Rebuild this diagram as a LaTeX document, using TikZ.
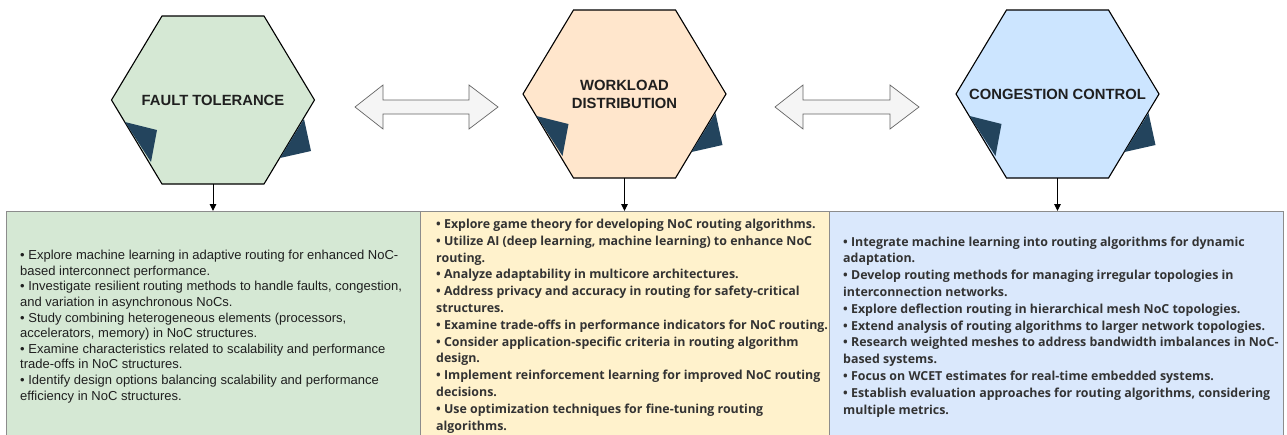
\documentclass[tikz,border=0pt]{standalone}
\usepackage{fontspec}
\setmainfont{Liberation Sans}
\newfontfamily\uifont{Open Sans}
\usetikzlibrary{arrows.meta,calc}
\definecolor{hexgreen}{HTML}{D5E8D4}
\definecolor{hexpeach}{HTML}{FFE6CC}
\definecolor{hexblue}{HTML}{CCE5FF}
\definecolor{boxgreen}{HTML}{D5E8D4}
\definecolor{boxyellow}{HTML}{FFF2CC}
\definecolor{boxblue}{HTML}{DAE8FC}
\definecolor{flapcol}{HTML}{23445D}
\definecolor{blkfill}{HTML}{F5F5F5}
\definecolor{blkline}{HTML}{666666}
\definecolor{txtdark}{HTML}{1F1F1F}
\definecolor{txtui}{HTML}{333333}
\newcommand\hexshape[2]{%
  \draw[hexline, fill=#2] (#1.west) -- ($(#1.north west)+(50.5,0)$) -- ($(#1.north east)+(-50.5,0)$)
    -- (#1.east) -- ($(#1.south east)+(-50.5,0)$) -- ($(#1.south west)+(50.5,0)$) -- cycle;
  \fill[flapcol] ($(#1.center)+(-88,22)$) -- ($(#1.center)+(-56,30)$) -- ($(#1.center)+(-62,62)$) -- cycle;
  \fill[flapcol] ($(#1.center)+(91,19)$) -- ($(#1.center)+(98,51)$) -- ($(#1.center)+(67,58)$) -- cycle;
}
\newcommand\blockarrow[2]{%
  \draw[blk] (#1) -- ++(28,-22) -- ++(0,15) -- ($(#2)+(-29,-7)$) -- ++(0,-15) -- (#2)
    -- ++(-29,22) -- ++(0,-15) -- ($(#1)+(28,7)$) -- ++(0,15) -- cycle;
}
\begin{document}
\begin{tikzpicture}[x=1pt,y=-1pt,
  hexbox/.style={minimum width=203pt, minimum height=168pt, inner sep=0pt, outer sep=0pt},
  hexline/.style={draw=black, line width=1.1pt, line join=miter},
  hexlabel/.style={font=\bfseries\fontsize{14.8}{18}\selectfont, text=txtdark, align=center, inner sep=0pt},
  blk/.style={fill=blkfill, draw=blkline, line width=0.7pt, line join=miter},
  panel/.style={draw=black!45, line width=0.9pt, inner sep=0pt, outer sep=0pt, anchor=north west, minimum height=240pt},
  downarr/.style={draw=black, line width=1pt, -{Triangle[width=6.5pt,length=7pt]}},
  txtA/.style={font=\fontsize{13}{15.6}\selectfont, text=txtdark, align=left, inner sep=0pt, anchor=base west},
  txtB/.style={font=\uifont\bfseries\fontsize{12.4}{16.8}\selectfont, text=txtui, align=left, inner sep=0pt, anchor=base west},
]
\useasboundingbox (0,0) rectangle (1287,434);
\fill[white] (0,0) rectangle (1287,434);

% panels
\node[panel, fill=boxgreen, minimum width=414pt] (b1) at (6.5,211) {};
\node[panel, fill=boxyellow, minimum width=408.5pt] (b2) at (420.5,211) {};
\node[panel, fill=boxblue, minimum width=454pt] (b3) at (829,211) {};

% hexagons
\node[hexbox] (h1) at (213,100) {};
\node[hexbox] (h2) at (624.5,94) {};
\node[hexbox] (h3) at (1057.5,94) {};
\hexshape{h1}{hexgreen}
\hexshape{h2}{hexpeach}
\hexshape{h3}{hexblue}
\node[hexlabel] (l1) at (h1.center) {FAULT TOLERANCE};
\node[hexlabel] (l2) at (h2.center) {WORKLOAD\\DISTRIBUTION};
\node[hexlabel] (l3) at (h3.center) {CONGESTION CONTROL};

% block arrows
\coordinate (a1l) at (355,107);
\coordinate (a1r) at (498,107);
\coordinate (a2l) at (775,107);
\coordinate (a2r) at (919,107);
\blockarrow{a1l}{a1r}
\blockarrow{a2l}{a2r}

% down arrows
\draw[downarr] (h1.south) -- (h1.south |- b1.north);
\draw[downarr] (h2.south) -- (h2.south |- b2.north);
\draw[downarr] (h3.south) -- (h3.south |- b3.north);

% texts (anchored at the baseline of their last line)
\node[txtA] (t1) at (20,400) {%
• Explore machine learning in adaptive routing for enhanced NoC-\\
based interconnect performance.\\
• Investigate resilient routing methods to handle faults, congestion,\\
and variation in asynchronous NoCs.\\
• Study combining heterogeneous elements (processors,\\
accelerators, memory) in NoC structures.\\
• Examine characteristics related to scalability and performance\\
trade-offs in NoC structures.\\
• Identify design options balancing scalability and performance\\
efficiency in NoC structures.};

\node[txtB] (t2) at (436,430) {%
• Explore game theory for developing NoC routing algorithms.\\
• Utilize AI (deep learning, machine learning) to enhance NoC\\
routing.\\
• Analyze adaptability in multicore architectures.\\
• Address privacy and accuracy in routing for safety-critical\\
structures.\\
• Examine trade-offs in performance indicators for NoC routing.\\
• Consider application-specific criteria in routing algorithm\\
design.\\
• Implement reinforcement learning for improved NoC routing\\
decisions.\\
• Use optimization techniques for fine-tuning routing\\
algorithms.};

\node[txtB] (t3) at (843,414) {%
• Integrate machine learning into routing algorithms for dynamic\\
adaptation.\\
• Develop routing methods for managing irregular topologies in\\
interconnection networks.\\
• Explore deflection routing in hierarchical mesh NoC topologies.\\
• Extend analysis of routing algorithms to larger network topologies.\\
• Research weighted meshes to address bandwidth imbalances in NoC-\\
based systems.\\
• Focus on WCET estimates for real-time embedded systems.\\
• Establish evaluation approaches for routing algorithms, considering\\
multiple metrics.};
\end{tikzpicture}
\end{document}
